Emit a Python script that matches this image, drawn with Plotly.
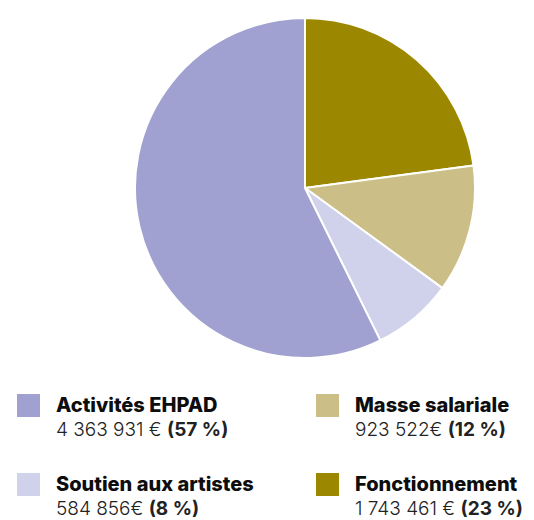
import plotly.graph_objects as go

labels = ["Fonctionnement", "Masse salariale", "Soutien aux artistes", "Activités EHPAD"]
values = [1743461, 923522, 584856, 4363931]
amount_text = ["1 743 461 €", "923 522€", "584 856€", "4 363 931 €"]
pct_text = ["23 %", "12 %", "8 %", "57 %"]
colors = ["#9c8800", "#cbbf87", "#d0d1eb", "#a0a1d1"]

# page body has an 8px margin: figure is placed at (8, 8)
OFF = 8
W, H = 534 - OFF, 520 - OFF


def px(x):
    return (x - OFF) / W


def py(y):
    return 1 - (y - OFF) / H


fig = go.Figure(go.Pie(
    labels=labels, values=values, sort=False, direction="clockwise", rotation=0,
    marker=dict(colors=colors, line=dict(color="white", width=2)),
    textinfo="none", hoverinfo="label+value+percent", showlegend=False,
    domain=dict(x=[px(135), px(475)], y=[py(358), py(18)]),
))

# legend layout: (index, square x-left px, square y-top px)
legend_pos = {3: (17, 394), 1: (316, 394), 2: (17, 473), 0: (316, 473)}

shapes, annotations = [], []
for i, (sx, sy) in legend_pos.items():
    shapes.append(dict(type="rect", xref="paper", yref="paper",
                       x0=px(sx), x1=px(sx + 23), y0=py(sy + 23), y1=py(sy),
                       fillcolor=colors[i], line=dict(width=0)))
    tx = px(sx + 37)
    annotations.append(dict(x=tx, y=py(sy + 11), xref="paper", yref="paper",
                            xanchor="left", yanchor="middle", showarrow=False,
                            text=labels[i],
                            font=dict(family="Inter", size=20, color="#0d0d0d", weight=800)))
    annotations.append(dict(x=tx, y=py(sy + 35), xref="paper", yref="paper",
                            xanchor="left", yanchor="middle", showarrow=False,
                            text=f"{amount_text[i]} <b>({pct_text[i]})</b>",
                            font=dict(family="Inter", size=19, color="#222222", weight=300)))

fig.update_layout(width=W, height=H, margin=dict(l=0, r=0, t=0, b=0),
                  paper_bgcolor="white", plot_bgcolor="white",
                  shapes=shapes, annotations=annotations)
fig.write_html("out.html")
